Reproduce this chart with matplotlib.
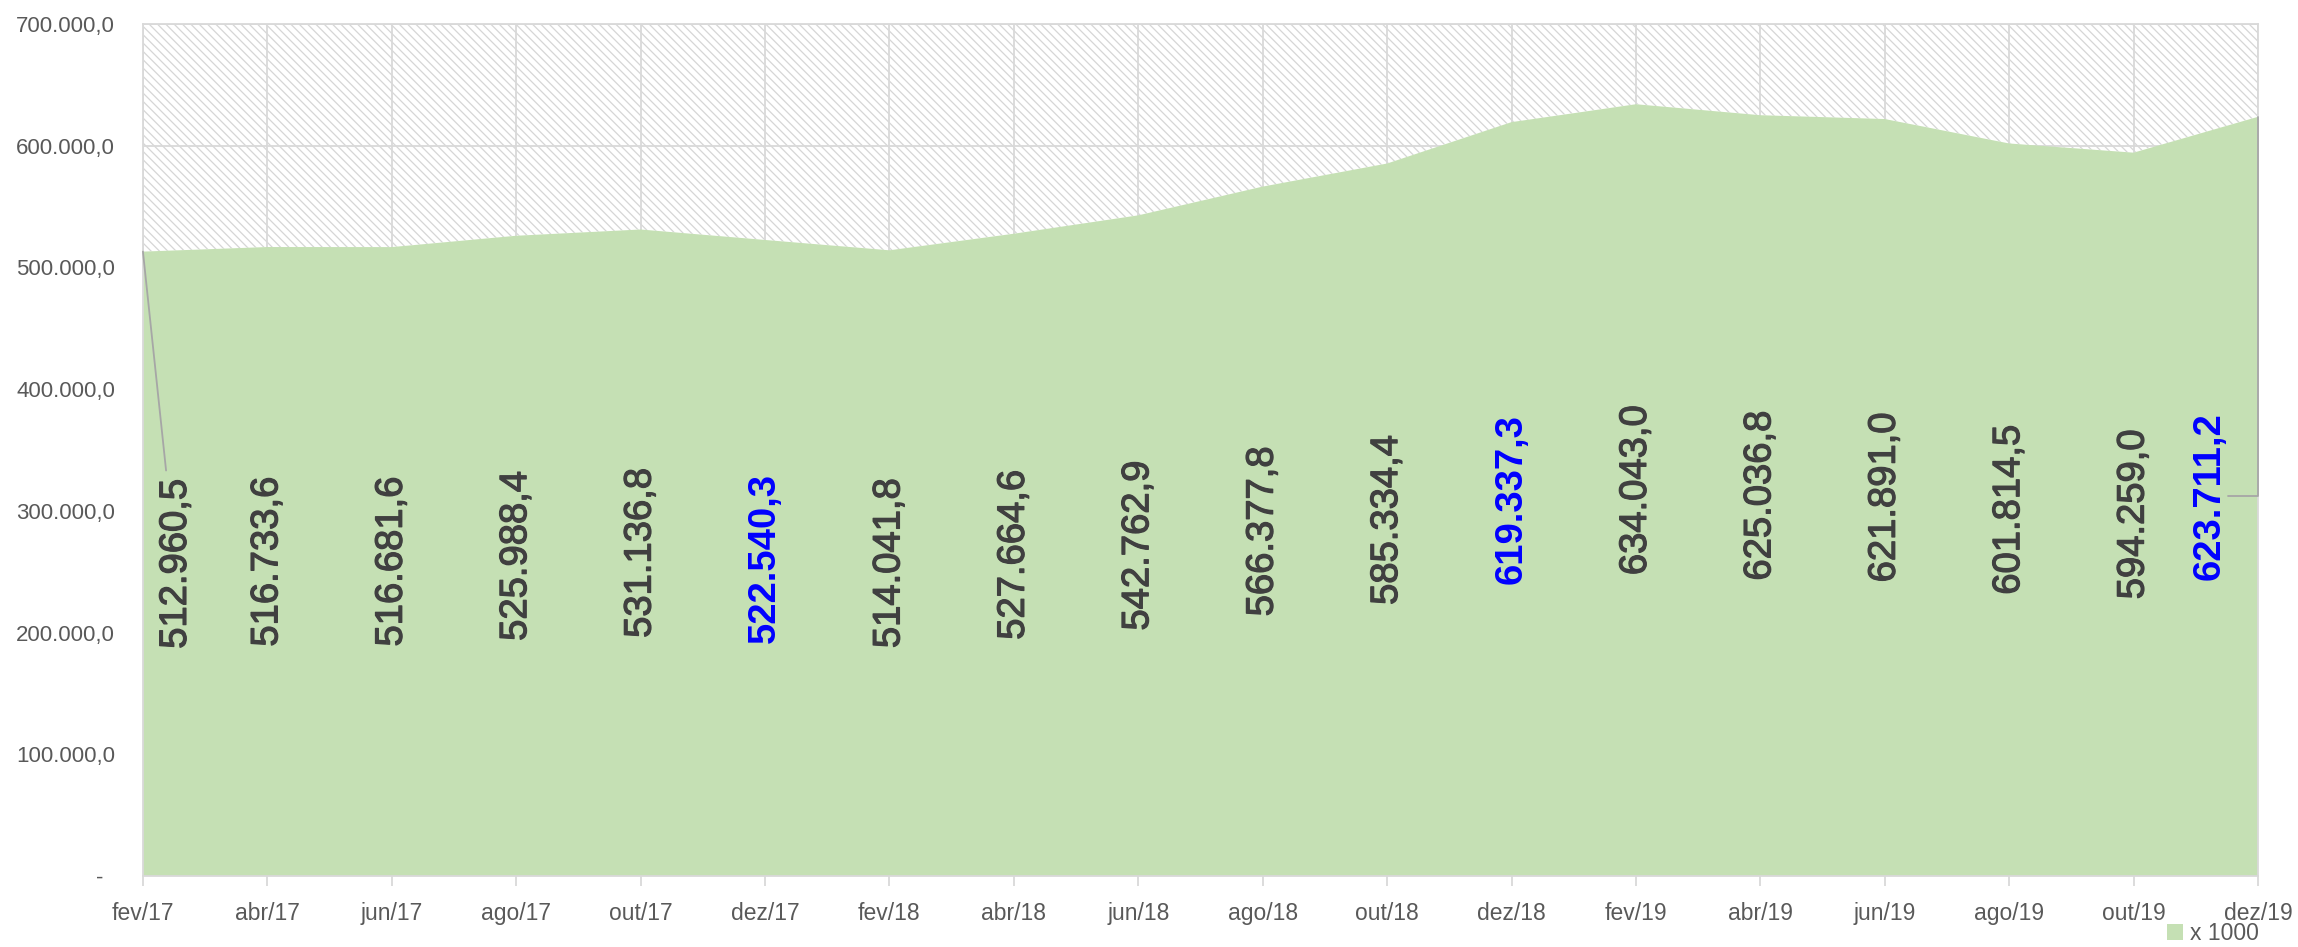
import matplotlib
matplotlib.use("Agg")
import matplotlib.pyplot as plt
from matplotlib.patches import Patch
import matplotlib.patheffects as pe

plt.rcParams['font.family'] = ['Liberation Sans', 'DejaVu Sans']
plt.rcParams['hatch.linewidth'] = 0.9

categories = ["fev/17", "abr/17", "jun/17", "ago/17", "out/17", "dez/17",
              "fev/18", "abr/18", "jun/18", "ago/18", "out/18", "dez/18",
              "fev/19", "abr/19", "jun/19", "ago/19", "out/19", "dez/19"]
values = [512960.5, 516733.6, 516681.6, 525988.4, 531136.8, 522540.3,
          514041.8, 527664.6, 542762.9, 566377.8, 585334.4, 619337.3,
          634043.0, 625036.8, 621891.0, 601814.5, 594259.0, 623711.2]
highlight = [5, 11, 17]
y_ticks = [0, 100000, 200000, 300000, 400000, 500000, 600000, 700000]
legend_label = "x 1000"

GREEN = "#C5E0B4"
GRID = "#D9D9D9"
TXT = "#595959"
LBL = "#404040"
BLUE = "#0000FF"


def fmt_br(v):
    if v == 0:
        return "-  "
    s = f"{v:,.1f}"
    return s.replace(",", "X").replace(".", ",").replace("X", ".")


fig = plt.figure(figsize=(22.98, 9.47), dpi=100)
ax = fig.add_axes([0.0622, 0.075, 0.9204, 0.8997])

x = list(range(len(categories)))
ymax = y_ticks[-1]

# hatched background above the area
ax.fill_between(x, values, ymax, facecolor="white", edgecolor="#D6D6D6",
                hatch="\\\\\\\\", linewidth=0, zorder=0.2)
ax.set_axisbelow(True)
ax.grid(True, color=GRID, linewidth=1.3)
ax.fill_between(x, 0, values, facecolor=GREEN, edgecolor="none", zorder=1)

ax.set_xlim(0, len(categories) - 1)
ax.set_ylim(0, ymax)
ax.set_xticks(x)
ax.set_xticklabels(categories, fontsize=16.5, color=TXT)
ax.set_yticks(y_ticks)
ax.set_yticklabels([fmt_br(v) for v in y_ticks], fontsize=16, color=TXT)
ax.tick_params(axis="y", length=0, pad=20)
ax.tick_params(axis="x", length=7, width=1.3, color=GRID, pad=12, direction="out")
for sp in ax.spines.values():
    sp.set_color(GRID)
    sp.set_linewidth(1.3)

# pixel -> data conversion for x offsets of the end labels
px_per_cat = (0.9204 * 2298) / (len(categories) - 1)

n = len(values)
for i, v in enumerate(values):
    hl = i in highlight
    col = BLUE if hl else LBL
    kw = dict(rotation=90, ha="center", va="center", fontsize=27.5,
              color=col, fontweight="bold" if hl else "normal", zorder=3)
    if not hl:
        kw["path_effects"] = [pe.withStroke(linewidth=0.9, foreground=col)]
    if i == 0:
        ax.annotate(fmt_br(v), xy=(i, v),
                    xytext=(i + 33 / px_per_cat, v / 2), textcoords="data",
                    arrowprops=dict(arrowstyle="-", color="#A6A6A6", lw=1.3,
                                    shrinkA=4, shrinkB=0),
                    **kw)
    elif i == n - 1:
        ax.annotate(fmt_br(v), xy=(i, v),
                    xytext=(i - 48 / px_per_cat, v / 2), textcoords="data",
                    arrowprops=dict(arrowstyle="-", color="#A6A6A6", lw=1.3,
                                    connectionstyle="angle,angleA=0,angleB=90,rad=0",
                                    relpos=(1, 0.5), patchA=None, shrinkA=0, shrinkB=0),
                    **kw)
    else:
        ax.text(i, v / 2, fmt_br(v), **kw)

fig.legend(handles=[Patch(facecolor=GREEN, edgecolor="none", label=legend_label)],
           loc="center right", bbox_to_anchor=(0.983, 0.014), frameon=False,
           borderaxespad=0, borderpad=0,
           fontsize=16.5, handlelength=0.7, handleheight=0.7, handletextpad=0.3,
           labelcolor=TXT)

fig.savefig("out.png", dpi=100)
